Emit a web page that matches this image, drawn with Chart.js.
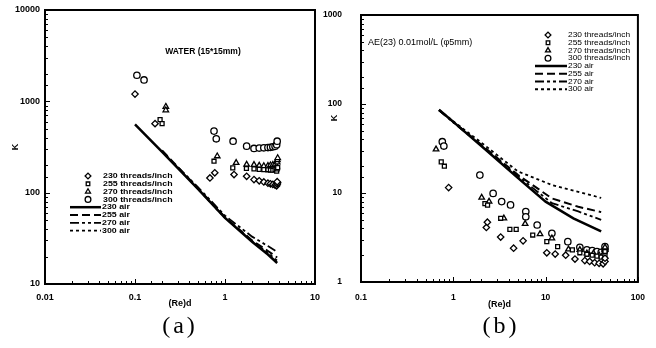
<!DOCTYPE html>
<html>
<head>
<meta charset="utf-8">
<script src="https://cdn.jsdelivr.net/npm/chart.js@4.4.0/dist/chart.umd.min.js"></script>
<style>
body { margin: 0; background: #fff; width: 656px; height: 348px; overflow: hidden; position: relative; }
canvas { position: absolute; top: 0; }
#chartA { left: 0; }
#chartB { left: 318px; }
.cap { position: absolute; top: 312px; width: 100px; text-align: center; font-family: 'Liberation Serif', serif; font-size: 24px; line-height: 26px; letter-spacing: 3px; }
</style>
</head>
<body>
<canvas id="chartA" width="328" height="348"></canvas>
<canvas id="chartB" width="338" height="348"></canvas>
<div class="cap" style="left:130px">(a)</div>
<div class="cap" style="left:451px">(b)</div>
<script>
// (a) WATER (15*15mm) -- [ (Re)d, K ]
const waterT230 = [[0.1,1200],[0.167,570],[0.68,145],[0.77,165],[1.26,158],[1.74,151],[2.1,139],[2.4,135],[2.7,131],[3.0,127],[3.2,125],[3.4,123],[3.6,121],[3.75,119],[3.8,124],[3.85,128],[3.8,132]];
const waterT255 = [[0.19,630],[0.2,570],[0.755,221],[1.22,187],[1.73,184],[2.1,182],[2.4,180],[2.7,179],[3.0,178],[3.2,177],[3.4,176],[3.6,178],[3.75,172],[3.8,182],[3.85,188]];
const waterT270 = [[0.22,875],[0.22,800],[0.82,251],[1.33,212],[1.74,203],[2.1,202],[2.4,198],[2.7,196],[3.0,197],[3.2,200],[3.4,202],[3.6,205],[3.75,195],[3.8,215],[3.82,228],[3.85,240]];
const waterT300 = [[0.105,1930],[0.126,1715],[0.755,472],[0.8,389],[1.23,366],[1.74,323],[2.1,305],[2.4,308],[2.7,310],[3.0,312],[3.2,314],[3.4,318],[3.6,322],[3.75,335],[3.8,366]];
const waterAir230 = [[0.1,560],[0.2,280],[0.5,110],[1,53],[2,29],[3,21],[3.8,17]];
const waterAir255 = [[0.2,290],[0.5,112],[1,54],[2,30],[3,23],[3.8,19.5]];
const waterAir270 = [[0.3,190],[0.5,115],[1,56],[2,33],[3,26],[3.8,22.5]];
const waterAir300 = [[0.2,285],[0.5,110],[1,53],[2,29.5],[3,22],[3.8,18]];

// (b) AE(23) 0.01mol/L
const aeT230 = [[0.89,11.5],[2.28,4.1],[2.34,4.7],[3.26,3.2],[4.5,2.4],[5.7,2.9],[10.3,2.13],[12.7,2.06],[16.5,2.0],[20.8,1.81],[26.6,1.74],[30,1.7],[34,1.65],[38,1.62],[42,1.6],[44,1.7],[44,1.85]];
const aeT255 = [[0.74,22.4],[0.8,20],[2.2,7.6],[2.35,7.3],[3.26,5.2],[4.1,3.9],[4.8,3.9],[7.25,3.37],[10.3,2.84],[13.5,2.5],[19.5,2.3],[23.5,2.13],[28,2.05],[32,2.0],[36,1.95],[40,1.9],[44,2.0],[44,2.2]];
const aeT270 = [[0.65,31],[2.03,8.9],[2.44,8.0],[3.53,5.2],[6.0,4.5],[8.7,3.46],[11.7,3.1],[17.7,2.33],[23.5,2.3],[28,2.1],[33,2.1],[38,2.0],[42,2.05],[44,2.3],[44,2.45]];
const aeT300 = [[0.76,37.7],[0.79,33.7],[1.94,15.9],[2.7,9.9],[3.34,8.0],[4.17,7.35],[6.1,6.2],[6.1,5.4],[8.1,4.37],[11.7,3.53],[17.4,2.84],[23.5,2.45],[28,2.3],[32,2.25],[36,2.2],[40,2.15],[44,2.3],[44,2.5]];
const aeAir230 = [[0.7,86],[1,63],[2,34],[5,14.8],[10,8],[20,5.2],[40,3.7]];
const aeAir255 = [[0.7,85],[1,63],[2,35],[5,16],[11.7,8.7],[22.6,7.0],[40,6.1]];
const aeAir270 = [[0.7,85],[1,62],[2,34.5],[5,15.5],[11.7,7.7],[22.6,6.2],[40,5.0]];
const aeAir300 = [[0.7,86],[1,64],[2,37],[5,17.5],[11.7,12.3],[22.6,10.3],[40,8.8]];

const markLabels = ['230 threads/inch', '255 threads/inch', '270 threads/inch', '300 threads/inch'];
const airLabels = ['230 air', '255 air', '270 air', '300 air'];
const markStyles = ['rectRot', 'rect', 'triangle', 'circle'];
const airDashes = [[], [8, 4], [9, 3, 3, 3, 3, 3], [3, 3]];
const airWidths = [2.5, 2, 1.8, 1.8];

Chart.defaults.color = '#000';
Chart.defaults.font.family = "'Liberation Sans', Arial, sans-serif";

const pts = (arr) => arr.map(([x, y]) => ({ x, y }));

function decadeLabel(v) {
    const l = Math.log10(v), r = Math.round(l);
    if (Math.abs(l - r) > 1e-6) return '';
    return r < 0 ? v.toFixed(-r) : String(Math.round(v));
}

function buildSets(marks, airs) {
    const sets = marks.map((d, i) => ({
        label: markLabels[i],
        data: pts(d),
        pointStyle: markStyles[i],
        pointRadius: i === 1 ? 2.8 : 3.2,
        borderWidth: 1.3,
        borderColor: '#000',
        backgroundColor: '#fff',
        showLine: false,
    }));
    airs.forEach((d, i) => sets.push({
        label: airLabels[i],
        data: pts(d),
        showLine: true,
        borderColor: '#000',
        borderWidth: airWidths[i],
        borderDash: airDashes[i],
        pointRadius: 0,
        fill: false,
    }));
    return sets;
}

function stretchedText(ctx, text, x, y, sx) {
    ctx.save();
    ctx.translate(x, y);
    ctx.scale(sx, 1);
    ctx.fillText(text, 0, 0);
    ctx.restore();
}

const decor = {
    id: 'decor',
    afterDraw(chart, args, opts) {
        const ctx = chart.ctx, a = chart.chartArea;
        ctx.save();
        ctx.strokeStyle = '#000';
        ctx.fillStyle = '#000';
        ctx.lineWidth = 2;
        ctx.strokeRect(a.left, a.top, a.right - a.left, a.bottom - a.top);

        // inward tick marks
        ctx.lineWidth = 1;
        const xs = chart.scales.x, ys = chart.scales.y;
        xs.ticks.forEach((t) => {
            const p = Math.round(xs.getPixelForValue(t.value)) + 0.5;
            const len = decadeLabel(t.value) ? 5 : 3;
            ctx.beginPath(); ctx.moveTo(p, a.bottom); ctx.lineTo(p, a.bottom - len); ctx.stroke();
        });
        ys.ticks.forEach((t) => {
            const p = Math.round(ys.getPixelForValue(t.value)) + 0.5;
            const len = decadeLabel(t.value) ? 5 : 3;
            ctx.beginPath(); ctx.moveTo(a.left, p); ctx.lineTo(a.left + len, p); ctx.stroke();
        });

        // notes
        (opts.notes || []).forEach((n) => {
            ctx.save();
            ctx.font = n.font;
            ctx.textAlign = n.align || 'left';
            ctx.textBaseline = 'middle';
            ctx.translate(n.x, n.y);
            if (n.rotate) ctx.rotate(n.rotate);
            ctx.fillText(n.text, 0, 0);
            ctx.restore();
        });

        // legend inside plot
        const lg = opts.legend;
        ctx.font = lg.font;
        ctx.textAlign = 'left';
        ctx.textBaseline = 'middle';
        chart.data.datasets.forEach((ds, i) => {
            const y = lg.y + i * lg.step;
            if (ds.showLine) {
                ctx.setLineDash(ds.borderDash || []);
                ctx.lineWidth = ds.borderWidth;
                ctx.beginPath(); ctx.moveTo(lg.lineX0, y); ctx.lineTo(lg.lineX1, y); ctx.stroke();
                ctx.setLineDash([]);
                ctx.fillStyle = '#000';
                stretchedText(ctx, ds.label, lg.lineX1 + 1, y, lg.stretch);
            } else {
                ctx.lineWidth = ds.borderWidth;
                ctx.fillStyle = '#fff';
                Chart.helpers.drawPoint(ctx, { pointStyle: ds.pointStyle, radius: ds.pointRadius * 0.9, rotation: 0, borderWidth: ds.borderWidth }, lg.symX, y);
                ctx.fillStyle = '#000';
                stretchedText(ctx, ds.label, lg.textX, y, lg.stretch);
            }
        });
        ctx.restore();
    },
};

function makeChart(id, cfg) {
    return new Chart(document.getElementById(id), {
        type: 'scatter',
        data: { datasets: cfg.datasets },
        plugins: [decor],
        options: {
            responsive: false,
            animation: false,
            layout: { padding: { top: cfg.top, right: cfg.right, left: 0, bottom: 0 } },
            scales: {
                x: {
                    type: 'logarithmic',
                    min: cfg.xMin,
                    max: cfg.xMax,
                    grid: { display: false, drawTicks: false },
                    border: { display: false },
                    ticks: { autoSkip: false, maxRotation: 0, padding: cfg.xPad, font: { size: cfg.tickSize, weight: 'bold' }, callback: decadeLabel },
                    title: { display: true, text: '(Re)d', font: { size: 9, weight: 'bold' }, padding: { top: 0, bottom: cfg.xTitlePad } },
                    afterFit: (s) => { s.height = cfg.xHeight; },
                },
                y: {
                    type: 'logarithmic',
                    min: cfg.yMin,
                    max: cfg.yMax,
                    grid: { display: false, drawTicks: false },
                    border: { display: false },
                    ticks: { autoSkip: false, padding: cfg.yPad, font: { size: cfg.tickSize, weight: 'bold' }, callback: decadeLabel },
                    title: { display: cfg.yTitle, text: 'K', font: { size: 9, weight: 'bold' }, padding: { top: 10, bottom: 0 } },
                    afterFit: (s) => { s.width = cfg.yWidth; s.paddingTop = 4; s.paddingBottom = 4; },
                },
            },
            plugins: {
                legend: { display: false },
                tooltip: { enabled: false },
                decor: { notes: cfg.notes, legend: cfg.legend },
            },
        },
    });
}

makeChart('chartA', {
    datasets: buildSets([waterT230, waterT255, waterT270, waterT300], [waterAir230, waterAir255, waterAir270, waterAir300]),
    xMin: 0.01, xMax: 10, yMin: 10, yMax: 10000,
    top: 10, right: 13, xHeight: 64, yWidth: 45,
    xPad: 8, yPad: 5, xTitlePad: 39, tickSize: 9, yTitle: true,
    notes: [{ text: 'WATER (15*15mm)', x: 203, y: 52, font: "bold 8.5px 'Liberation Sans'", align: 'center' }],
    legend: { font: "bold 7.8px 'Liberation Sans'", stretch: 1.13, y: 176, step: 7.8, symX: 88, textX: 103, lineX0: 70, lineX1: 101 },
});

makeChart('chartB', {
    datasets: buildSets([aeT230, aeT255, aeT270, aeT300], [aeAir230, aeAir255, aeAir270, aeAir300]),
    xMin: 0.1, xMax: 100, yMin: 1, yMax: 1000,
    top: 15, right: 14, xHeight: 66, yWidth: 43,
    xPad: 11, yPad: 19, xTitlePad: 38, tickSize: 8.5, yTitle: false,
    notes: [
        { text: 'AE(23) 0.01mol/L (φ5mm)', x: 50, y: 43, font: "9px 'Liberation Sans'", align: 'left' },
        { text: 'K', x: 17, y: 118, font: "bold 9px 'Liberation Sans'", align: 'center', rotate: -Math.PI / 2 },
    ],
    legend: { font: "7.3px 'Liberation Sans'", stretch: 1.15, y: 35, step: 7.75, symX: 230, textX: 250, lineX0: 217, lineX1: 249 },
});
</script>
</body>
</html>
